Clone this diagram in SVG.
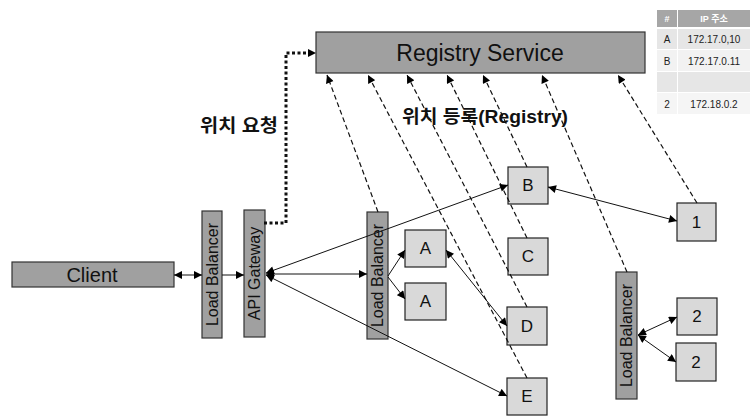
<svg xmlns="http://www.w3.org/2000/svg" width="750" height="417" viewBox="0 0 750 417">
  <style>
    .dark { fill: #a0a0a0; stroke: #333; stroke-width: 1.2; }
    .light { fill: #d9d9d9; stroke: #222; stroke-width: 1.2; }
    .lbl { font-family: "Liberation Sans", Arial, sans-serif; fill: #111; text-anchor: middle; dominant-baseline: central; }
    .bold { font-family: "Liberation Sans", "Noto Sans CJK KR", sans-serif; font-weight: bold; fill: #111; }
    .solid { fill: none; stroke: #111; stroke-width: 1; }
    .dash { fill: none; stroke: #111; stroke-width: 1.2; stroke-dasharray: 5 3; }
    .dot { fill: none; stroke: #111; stroke-width: 3; stroke-dasharray: 3 2.5; }
    .th { font-family: "Liberation Sans", "Noto Sans CJK KR", sans-serif; font-size: 9px; font-weight: bold; fill: #fff; text-anchor: middle; dominant-baseline: central; }
    .td { font-family: "Liberation Sans", "Noto Sans CJK KR", sans-serif; font-size: 10px; fill: #222; text-anchor: middle; dominant-baseline: central; }
  </style>
  <defs>
    <marker id="arr" viewBox="0 0 10 10" refX="10" refY="5" markerWidth="9" markerHeight="8" markerUnits="userSpaceOnUse" orient="auto-start-reverse">
      <path d="M0,0 L10,5 L0,10 z" fill="#000"/>
    </marker>
  </defs>

  <!-- registry service -->
  <g id="registry">
    <rect class="dark" x="316" y="32" width="329" height="41"/>
    <text class="lbl" x="480" y="53" font-size="23">Registry Service</text>
  </g>

  <g id="client">
    <rect class="dark" x="12" y="262" width="162" height="25"/>
    <text class="lbl" x="92" y="275" font-size="20">Client</text>
  </g>

  <g id="lb1">
    <rect class="dark" x="202" y="211" width="20" height="127"/>
    <text class="lbl" x="212" y="274.5" font-size="16" transform="rotate(-90 212 274.5)">Load Balancer</text>
  </g>

  <g id="gateway">
    <rect class="dark" x="244" y="210" width="21" height="127"/>
    <text class="lbl" x="254.5" y="273.5" font-size="16" transform="rotate(-90 254.5 273.5)">API Gateway</text>
  </g>

  <g id="lb2">
    <rect class="dark" x="367" y="212" width="21" height="127"/>
    <text class="lbl" x="377.5" y="275.5" font-size="16" transform="rotate(-90 377.5 275.5)">Load Balancer</text>
  </g>

  <g id="lb3">
    <rect class="dark" x="616" y="272" width="21" height="127"/>
    <text class="lbl" x="626.5" y="335.5" font-size="16" transform="rotate(-90 626.5 335.5)">Load Balancer</text>
  </g>

  <g id="a1">
    <rect class="light" x="405" y="230" width="41" height="37"/>
    <text class="lbl" x="425.5" y="248.5" font-size="17">A</text>
  </g>
  <g id="a2">
    <rect class="light" x="405" y="283" width="41" height="37"/>
    <text class="lbl" x="425.5" y="301.5" font-size="17">A</text>
  </g>
  <g id="b">
    <rect class="light" x="508" y="167" width="40" height="37"/>
    <text class="lbl" x="528" y="185.5" font-size="17">B</text>
  </g>
  <g id="c">
    <rect class="light" x="508" y="238" width="40" height="37"/>
    <text class="lbl" x="528" y="256.5" font-size="17">C</text>
  </g>
  <g id="d">
    <rect class="light" x="507" y="307" width="40" height="38"/>
    <text class="lbl" x="527" y="326" font-size="17">D</text>
  </g>
  <g id="e">
    <rect class="light" x="507" y="378" width="40" height="37"/>
    <text class="lbl" x="527" y="396.5" font-size="17">E</text>
  </g>
  <g id="n1">
    <rect class="light" x="677" y="203" width="39" height="38"/>
    <text class="lbl" x="696.5" y="222" font-size="17">1</text>
  </g>
  <g id="n2a">
    <rect class="light" x="677" y="298" width="40" height="37"/>
    <text class="lbl" x="697" y="316.5" font-size="17">2</text>
  </g>
  <g id="n2b">
    <rect class="light" x="676" y="343" width="40" height="38"/>
    <text class="lbl" x="696" y="362" font-size="17">2</text>
  </g>

  <!-- labels -->
  <text class="bold" x="200" y="132" font-size="18" textLength="78" lengthAdjust="spacingAndGlyphs">위치 요청</text>
  <text class="bold" x="402" y="123" font-size="18" textLength="166" lengthAdjust="spacingAndGlyphs">위치 등록(Registry)</text>

  <!-- connectors -->
  <g id="connectors">
    <!-- location lookup -->
    <polyline class="dot" points="264,223 286,223 286,53 308,53"/>
    <path d="M308,49 L316,53 L308,57 z" fill="#000"/>

    <!-- registration -->
    <line class="dash" x1="378" y1="212" x2="327" y2="75" marker-end="url(#arr)"/>
    <line class="dash" x1="527" y1="378" x2="368" y2="75" marker-end="url(#arr)"/>
    <line class="dash" x1="527" y1="307" x2="407" y2="75" marker-end="url(#arr)"/>
    <line class="dash" x1="527" y1="238" x2="447" y2="75" marker-end="url(#arr)"/>
    <line class="dash" x1="527" y1="167" x2="483" y2="75" marker-end="url(#arr)"/>
    <line class="dash" x1="627" y1="272" x2="542" y2="75" marker-end="url(#arr)"/>
    <line class="dash" x1="697" y1="203" x2="618" y2="75" marker-end="url(#arr)"/>

    <!-- request flow -->
    <line class="solid" x1="174" y1="275" x2="202" y2="275" marker-start="url(#arr)" marker-end="url(#arr)"/>
    <line class="solid" x1="222" y1="275" x2="244" y2="275" marker-end="url(#arr)"/>
    <line class="solid" x1="266" y1="274" x2="367" y2="274" marker-start="url(#arr)" marker-end="url(#arr)"/>
    <line class="solid" x1="266" y1="273" x2="508" y2="185" marker-start="url(#arr)" marker-end="url(#arr)"/>
    <line class="solid" x1="266" y1="275" x2="507" y2="396" marker-start="url(#arr)" marker-end="url(#arr)"/>
    <line class="solid" x1="388" y1="276" x2="405" y2="250" marker-end="url(#arr)"/>
    <line class="solid" x1="388" y1="277" x2="405" y2="299" marker-end="url(#arr)"/>
    <line class="solid" x1="446" y1="250" x2="507" y2="326" marker-start="url(#arr)" marker-end="url(#arr)"/>
    <line class="solid" x1="548" y1="187" x2="677" y2="221" marker-start="url(#arr)" marker-end="url(#arr)"/>
    <line class="solid" x1="638" y1="335" x2="677" y2="317" marker-start="url(#arr)" marker-end="url(#arr)"/>
    <line class="solid" x1="638" y1="335" x2="676" y2="362" marker-start="url(#arr)" marker-end="url(#arr)"/>
  </g>

  <!-- address table -->
  <g id="ip-table">
    <rect x="657" y="10" width="20" height="17" fill="#a6a6a6"/>
    <rect x="678" y="10" width="72" height="17" fill="#a6a6a6"/>
    <text class="th" x="667" y="18.5">#</text>
    <text class="th" x="714" y="18.5">IP 주소</text>

    <rect x="657" y="29" width="20" height="20" fill="#e6e6e6"/>
    <rect x="678" y="29" width="72" height="20" fill="#e6e6e6"/>
    <text class="td" x="667" y="39.5">A</text>
    <text class="td" x="714" y="39.5">172.17.0,10</text>

    <rect x="657" y="50" width="20" height="21" fill="#f2f2f2"/>
    <rect x="678" y="50" width="72" height="21" fill="#f2f2f2"/>
    <text class="td" x="667" y="61">B</text>
    <text class="td" x="714" y="61">172.17.0.11</text>

    <rect x="657" y="72" width="20" height="20" fill="#e6e6e6"/>
    <rect x="678" y="72" width="72" height="20" fill="#e6e6e6"/>

    <rect x="657" y="93" width="20" height="21" fill="#f5f5f5"/>
    <rect x="678" y="93" width="72" height="21" fill="#f5f5f5"/>
    <text class="td" x="667" y="104">2</text>
    <text class="td" x="714" y="104">172.18.0.2</text>
  </g>
</svg>
